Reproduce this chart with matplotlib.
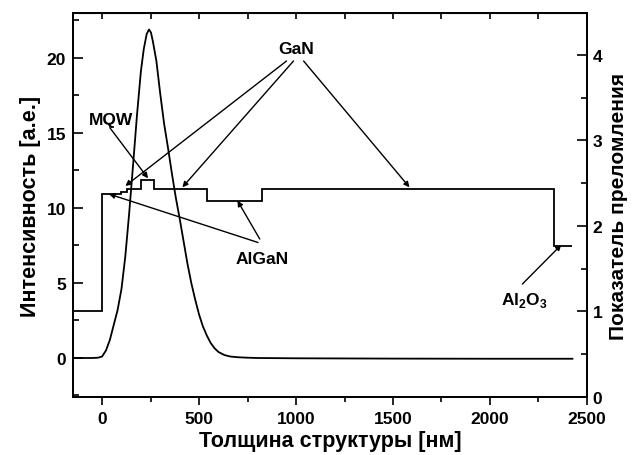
import numpy as np
import matplotlib
matplotlib.use('Agg')
import matplotlib.pyplot as plt
from matplotlib.ticker import MultipleLocator

plt.rcParams['font.family'] = ['Liberation Sans', 'DejaVu Sans']
plt.rcParams['font.weight'] = 'bold'
plt.rcParams['mathtext.fontset'] = 'custom'
plt.rcParams['mathtext.rm'] = 'Liberation Sans:bold'
plt.rcParams['mathtext.bf'] = 'Liberation Sans:bold'

# --- intensity profile (left axis) ---
thick_int = [-150, -50, -20, 0, 20, 40, 60, 80, 100, 120, 140, 160, 180, 200, 215, 230, 242,
             252, 262, 280, 300, 320, 340, 360, 380, 400, 420, 440, 460, 480, 500, 520,
             540, 560, 580, 600, 630, 660, 700, 750, 800, 1000, 1500, 2000, 2425]
intensity = [0.0, 0.0, 0.02, 0.1, 0.5, 1.2, 2.2, 3.2, 4.6, 6.8, 9.7, 12.9, 16.2, 19.1, 20.6, 21.6, 21.9,
             21.7, 21.1, 19.8, 17.6, 15.6, 14.0, 12.3, 10.7, 9.3, 7.8, 6.3, 5.0, 3.9, 2.9, 2.1,
             1.5, 1.0, 0.65, 0.4, 0.2, 0.1, 0.05, 0.02, 0.0, -0.02, -0.04, -0.05, -0.05]

# --- refractive index steps (right axis) ---
layer_edges = [-150, 0, 100, 130, 200, 268, 541, 825, 2330, 2425]
n_layers = [1.0, 2.37, 2.40, 2.43, 2.54, 2.43, 2.29, 2.43, 1.77]

fig = plt.figure(figsize=(6.38, 4.56), dpi=100)
ax = fig.add_axes([0.1144, 0.1272, 0.8056, 0.8421])
ax2 = ax.twinx()

ax.plot(thick_int, intensity, color='black', lw=1.3)
ax2.stairs(n_layers, layer_edges, color='black', lw=1.3, baseline=None)

ax.set_xlim(-150, 2500)
ax.set_ylim(-2.6, 23)
ax2.set_ylim(0, 4.49)

ax.xaxis.set_major_locator(MultipleLocator(500))
ax.xaxis.set_minor_locator(MultipleLocator(250))
ax.yaxis.set_major_locator(MultipleLocator(5))
ax.yaxis.set_minor_locator(MultipleLocator(2.5))
ax2.yaxis.set_major_locator(MultipleLocator(1))
ax2.yaxis.set_minor_locator(MultipleLocator(0.5))

ax.tick_params(axis='x', which='major', direction='out', length=6, width=1.2, labelsize=12.5, top=False, pad=4)
ax.tick_params(axis='x', which='minor', direction='out', length=3.5, width=1.2, top=False)
ax.tick_params(axis='y', which='major', direction='in', length=7, width=1.2, labelsize=12.5, right=False, pad=5)
ax.tick_params(axis='y', which='minor', direction='in', length=4, width=1.2, right=False)
ax2.tick_params(axis='y', which='major', direction='in', length=7, width=1.2, labelsize=12.5, pad=4)
ax2.tick_params(axis='y', which='minor', direction='in', length=4, width=1.2)

top = ax.secondary_xaxis('top')
top.set_xticks(np.arange(0, 2501, 250))
top.tick_params(direction='in', length=4, width=1.2, labeltop=False)

for a in (ax, ax2):
    for s in a.spines.values():
        s.set_linewidth(1.3)

for lab in ax.get_xticklabels() + ax.get_yticklabels() + ax2.get_yticklabels():
    lab.set_fontweight('bold')

ax.set_xlabel('Толщина структуры [нм]', fontsize=15.5, fontweight='bold', labelpad=3)
ax.set_ylabel('Интенсивность [а.е.]', fontsize=15.5, fontweight='bold', labelpad=4)
ax2.set_ylabel('Показатель преломления', fontsize=15, fontweight='bold', labelpad=5)

arrow = dict(arrowstyle='-|>', color='black', lw=1.0, mutation_scale=8, shrinkA=0, shrinkB=0)
fs = 12.5

ax.text(1000, 20.6, 'GaN', ha='center', va='center', fontsize=fs, fontweight='bold')
ax.annotate('', xy=(120, 11.47), xytext=(951, 19.8), arrowprops=arrow)
ax.annotate('', xy=(414, 11.38), xytext=(987, 19.8), arrowprops=arrow)
ax.annotate('', xy=(1585, 11.38), xytext=(1039, 19.8), arrowprops=arrow)

ax.text(45, 15.9, 'MQW', ha='center', va='center', fontsize=fs, fontweight='bold')
ax.annotate('', xy=(237, 11.98), xytext=(40, 15.35), arrowprops=arrow)

ax.text(827, 6.6, 'AlGaN', ha='center', va='center', fontsize=fs, fontweight='bold')
ax.annotate('', xy=(36, 10.93), xytext=(804, 7.7), arrowprops=arrow)
ax.annotate('', xy=(698, 10.49), xytext=(813, 7.93), arrowprops=arrow)

ax.text(2179, 3.9, 'Al$_2$O$_3$', ha='center', va='center', fontsize=fs, fontweight='bold')
ax.annotate('', xy=(2368, 7.55), xytext=(2167, 4.93), arrowprops=arrow)

fig.savefig('out.png', dpi=100)
